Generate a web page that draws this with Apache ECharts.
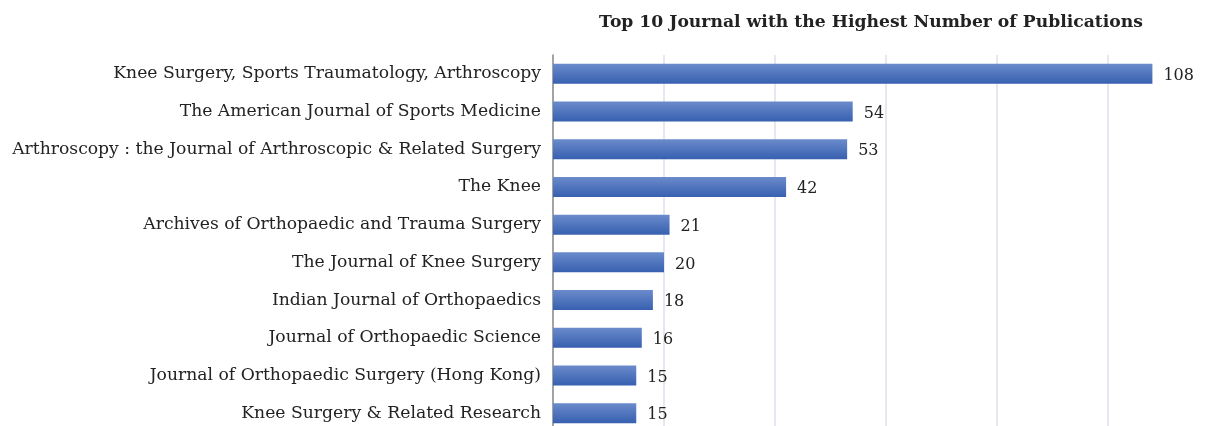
<!DOCTYPE html>
<html>
<head>
<meta charset="utf-8">
<script src="https://cdn.jsdelivr.net/npm/echarts@6/dist/echarts.min.js"></script>
<style>
  html, body { margin: 0; padding: 0; background: #fff; }
  #chart { width: 1205px; height: 426px; }
</style>
</head>
<body>
<div id="chart"></div>
<script>
const journals = [
    'Knee Surgery, Sports Traumatology, Arthroscopy',
    'The American Journal of Sports Medicine',
    'Arthroscopy : the Journal of Arthroscopic & Related Surgery',
    'The Knee',
    'Archives of Orthopaedic and Trauma Surgery',
    'The Journal of Knee Surgery',
    'Indian Journal of Orthopaedics',
    'Journal of Orthopaedic Science',
    'Journal of Orthopaedic Surgery (Hong Kong)',
    'Knee Surgery & Related Research'
];
const publications = [108, 54, 53, 42, 21, 20, 18, 16, 15, 15];

const serif = '"DejaVu Serif", "Liberation Serif", serif';

var chart = echarts.init(document.getElementById('chart'));
chart.setOption({
    animation: false,
    title: {
        text: 'Top 10 Journal with the Highest Number of Publications',
        left: 866,
        top: 9,
        textAlign: 'center',
        textStyle: { fontFamily: serif, fontSize: 17.2, fontWeight: 'bold', color: '#222' }
    },
    grid: { left: 553, right: -14, top: 55, bottom: -6, outerBoundsMode: 'none' },
    xAxis: {
        type: 'value',
        min: 0,
        max: 120,
        interval: 20,
        axisLabel: { show: false },
        axisLine: { show: false },
        axisTick: { show: false },
        splitLine: { lineStyle: { color: '#dde2ea', width: 1.5 } }
    },
    yAxis: {
        type: 'category',
        inverse: true,
        data: journals,
        axisLine: { lineStyle: { color: '#8c8c8c', width: 1.5 } },
        axisTick: { show: false },
        axisLabel: { fontFamily: serif, fontSize: 17.2, color: '#222', margin: 12 }
    },
    series: [{
        type: 'bar',
        data: publications,
        barWidth: 20,
        itemStyle: {
            color: new echarts.graphic.LinearGradient(0, 0, 0, 1, [
                { offset: 0, color: '#6b8bcb' },
                { offset: 1, color: '#3760b0' }
            ])
        },
        label: {
            show: true,
            position: 'right',
            distance: 11,
            offset: [0, 2],
            fontFamily: serif,
            fontSize: 16,
            color: '#222'
        }
    }]
});
</script>
</body>
</html>
